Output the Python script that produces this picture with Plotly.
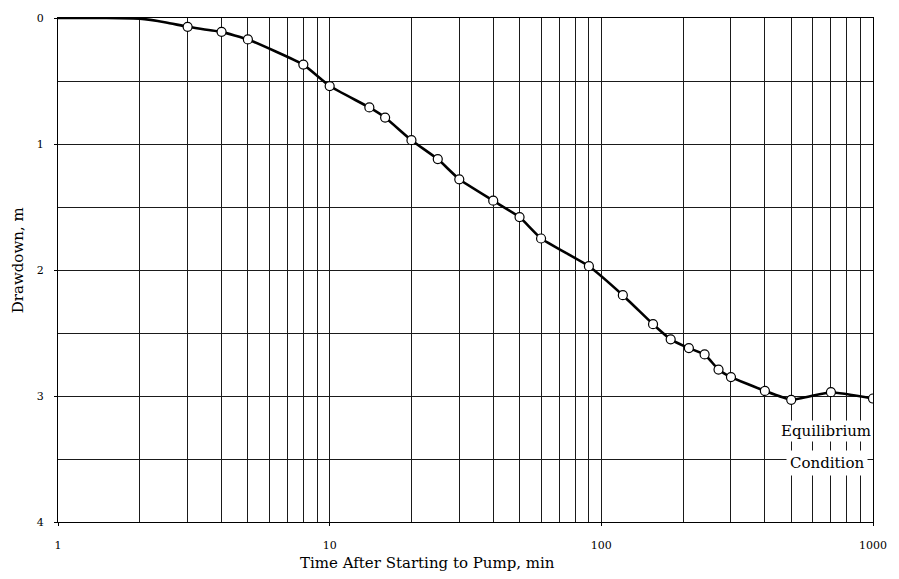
import plotly.graph_objects as go

# Observed drawdown data (time in min, drawdown in m)
time_min = [3, 4, 5, 8, 10, 14, 16, 20, 25, 30, 40, 50, 60, 90, 120, 155, 180, 210,
            240, 270, 300, 400, 500, 700, 1000]
drawdown_m = [0.07, 0.11, 0.17, 0.37, 0.54, 0.71, 0.79, 0.97, 1.12, 1.28, 1.45, 1.58,
              1.75, 1.97, 2.2, 2.43, 2.55, 2.62, 2.67, 2.79, 2.85, 2.96, 3.03, 2.97, 3.02]

# Early part of the curve (before first observation)
lead_time = [1, 1.5, 2, 2.5]
lead_drawdown = [0.0, 0.0, 0.005, 0.035]

x_major = [1, 10, 100, 1000]
x_major_text = ["1", "10", "100", "1000"]
x_minor = [m * 10 ** e for e in range(3) for m in range(2, 10)]
y_major = [0, 1, 2, 3, 4]
y_minor = [0.5, 1.5, 2.5, 3.5]

font_family = "DejaVu Serif"
grid_col = "#1a1a1a"

fig = go.Figure()
fig.add_trace(go.Scatter(
    x=lead_time + time_min, y=lead_drawdown + drawdown_m,
    mode="lines", line=dict(color="black", width=2.6, shape="spline", smoothing=0.4),
    hoverinfo="skip", showlegend=False))
fig.add_trace(go.Scatter(
    x=time_min, y=drawdown_m, mode="markers",
    marker=dict(symbol="circle", size=9, color="white", line=dict(color="black", width=1.2)),
    showlegend=False))

fig.update_layout(
    width=899, height=579,
    margin=dict(l=58, r=20, t=14, b=57),
    paper_bgcolor="white", plot_bgcolor="white",
    font=dict(family=font_family, color="black", size=11),
    xaxis=dict(
        type="log", range=[0, 3],
        tickmode="array", tickvals=x_major, ticktext=x_major_text,
        ticks="outside", ticklen=3, tickcolor="black", ticklabelstandoff=10,
        showgrid=True, gridcolor=grid_col, gridwidth=1,
        minor=dict(tickmode="array", tickvals=x_minor, showgrid=True,
                   gridcolor=grid_col, gridwidth=1, ticks=""),
        showline=True, linecolor="black", linewidth=1.2, mirror=True,
        zeroline=False, tickfont=dict(size=11, family=font_family),
    ),
    yaxis=dict(
        range=[4, 0],
        tickmode="array", tickvals=y_major, ticktext=[str(v) for v in y_major],
        ticks="outside", ticklen=3, tickcolor="black", ticklabelstandoff=8,
        showgrid=True, gridcolor=grid_col, gridwidth=1,
        minor=dict(tickmode="array", tickvals=y_minor, showgrid=True,
                   gridcolor=grid_col, gridwidth=1, ticks=""),
        showline=True, linecolor="black", linewidth=1.2, mirror=True,
        zeroline=False, tickfont=dict(size=11, family=font_family),
    ),
    annotations=[
        dict(text="Time After Starting to Pump, min", xref="paper", yref="paper",
             x=0.453, y=-0.081, xanchor="center", yanchor="middle", showarrow=False,
             font=dict(size=15, family=font_family)),
        dict(text="Drawdown, m", xref="paper", yref="paper",
             x=-0.0487, y=0.52, xanchor="center", yanchor="middle", textangle=-90,
             showarrow=False, font=dict(size=15, family=font_family)),
        dict(text="Equilibrium", xref="x", yref="y", x=2.828, y=3.28,
             showarrow=False, bgcolor="white", font=dict(size=15, family=font_family)),
        dict(text="Condition", xref="x", yref="y", x=2.83, y=3.53,
             showarrow=False, bgcolor="white", borderpad=3,
             font=dict(size=15, family=font_family)),
    ],
)

fig.write_html("out.html")
